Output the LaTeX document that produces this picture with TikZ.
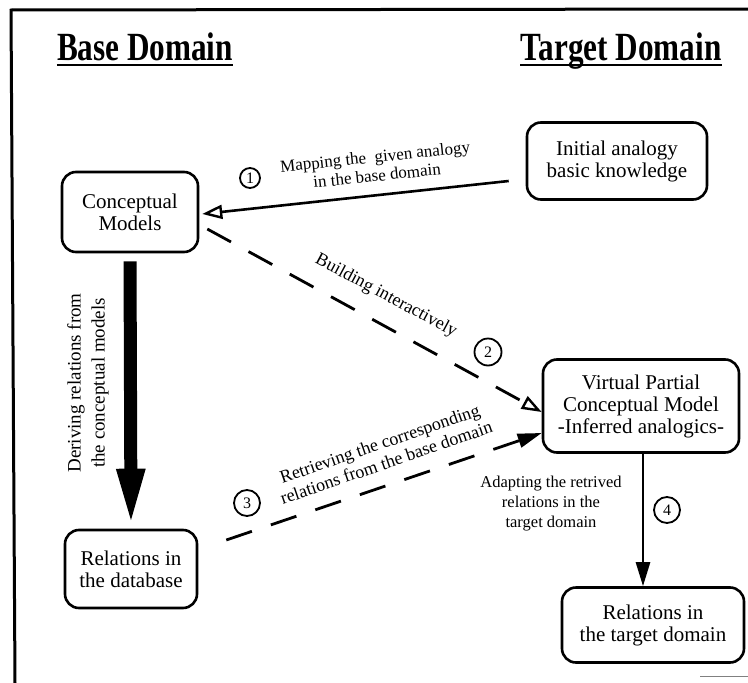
\documentclass[tikz,border=0pt]{standalone}
\usepackage{fontspec}
\setmainfont{Liberation Serif}
\usetikzlibrary{arrows.meta,calc}

\tikzset{
  box/.style={draw, line width=2.6pt, rounded corners=14pt, align=center,
    inner sep=2pt, font=\fontsize{21}{22}\selectfont},
  heading/.style={inner sep=0pt, anchor=base,
    font=\fontsize{40}{44}\selectfont\bfseries},
  lbl/.style={inner sep=0pt, align=center, font=\fontsize{17}{19}\selectfont},
  smalllbl/.style={inner sep=0pt, align=center, font=\fontsize{16.5}{20}\selectfont},
  num/.style={draw, circle, line width=1.8pt, inner sep=0pt,
    font=\fontsize{16}{16}\selectfont},
  flow/.style={line width=2.6pt},
  dashflow/.style={line width=2.8pt, dash pattern=on 27pt off 20pt},
  opentip/.style={-{Triangle[open,length=20pt,width=14pt,line width=2.4pt]}},
  solidtip/.style={-{Triangle[length=24pt,width=14pt]}},
}

\begin{document}
\begin{tikzpicture}[x=1pt,y=-1pt]
\useasboundingbox (0,0) rectangle (748,683);

% frame (top and left edges only)
\draw[line width=3pt] (10,10) -- (748,9);
\draw[line width=3pt] (11,9) -- (15,683);
\draw[line width=1pt, gray] (700,676) -- (748,676);

% headings
\node[heading] (hb) at (145,60) {\scalebox{0.78}[1]{Base Domain}};
\node[heading] (ht) at (621,60) {\scalebox{0.78}[1]{Target Domain}};
\draw[line width=2.4pt] ([yshift=-5pt]hb.base west) -- ([yshift=-5pt]hb.base east);
\draw[line width=2.4pt] ([yshift=-5pt]ht.base west) -- ([yshift=-5pt]ht.base east);

% boxes
\node[box, minimum width=136pt, minimum height=80pt] (cm)   at (130,212) {Conceptual\\Models};
\node[box, minimum width=180pt, minimum height=77pt] (init) at (617,161) {Initial analogy\\basic knowledge};
\node[box, minimum width=132pt, minimum height=78pt] (rdb)  at (131,569) {Relations in\\the database};
\node[box, minimum width=196pt, minimum height=93pt] (vp)   at (641,406) {Virtual Partial\\Conceptual Model\\-Inferred analogics-};
\node[box, minimum width=182pt, minimum height=75pt] (rt)   at (653,625) {Relations in\\the target domain};

% free ends of the arrows
\coordinate (a1s) at ($(init.west)+(-17,20)$);
\coordinate (a1e) at ($(cm.east)+(3,2)$);
\coordinate (a2s) at ($(cm.east)+(8,17)$);
\coordinate (a2e) at ($(vp.west)+(0,6)$);
\coordinate (a3s) at ($(rdb.east)+(28,-29)$);
\coordinate (a3e) at ($(vp.west)+(0,27)$);
\coordinate (a4s) at ($(vp.south)+(2,0)$);
\coordinate (a4e) at (a4s |- rt.north);

% 1: mapping the analogy into the base domain
\draw[flow, opentip] (a1s) -- (a1e);
\node[num, minimum size=20pt] (n1) at (250,178) {1};
\node[lbl, rotate=6] (l1) at (376,166) {Mapping the\ \ given analogy\\in the base domain};

% derivation of relations in the base domain
\draw[line width=13pt, -{Triangle[length=60pt,width=25pt]}, shorten <=8pt] (cm.south) -- (rdb.north);
\node[lbl, rotate=90, font=\fontsize{19}{24}\selectfont] (ld) at (88,383) {Deriving relations from\\the conceptual models};

% 2: building interactively
\draw[dashflow, opentip] (a2s) -- (a2e);
\node[lbl, rotate=-28, font=\fontsize{18}{20}\selectfont] (l2) at (386,296) {Building interactively};
\node[num, minimum size=27pt] (n2) at (488,352) {2};

% 3: retrieving the corresponding relations
\draw[dashflow, solidtip] (a3s) -- (a3e);
\node[num, minimum size=26pt] (n3) at (247,503) {3};
\node[lbl, rotate=19, font=\fontsize{18}{20}\selectfont] (l3) at (383,453) {Retrieving the corresponding\\relations from the base domain};

% 4: adapting the relations in the target domain
\draw[flow, solidtip] (a4s) -- (a4e);
\node[num, minimum size=26pt] (n4) at (667,510) {4};
\node[smalllbl] (l4) at (551,504) {Adapting the retrived\\relations in the\\target domain};

\end{tikzpicture}
\end{document}
